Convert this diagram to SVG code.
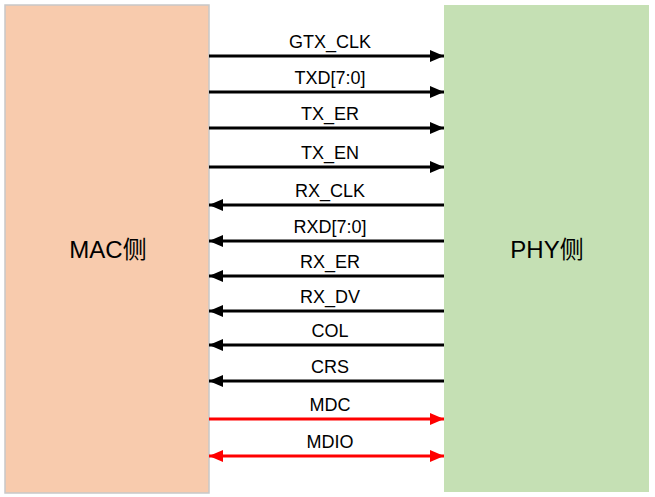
<svg xmlns="http://www.w3.org/2000/svg" width="655" height="497" viewBox="0 0 655 497">
<style>
.sig{font-family:"Liberation Sans","Noto Sans CJK SC",sans-serif;font-size:18px;fill:#000;text-anchor:middle}
.big{font-family:"Liberation Sans","Noto Sans CJK SC",sans-serif;font-size:24px;fill:#000;text-anchor:middle}
.blk{stroke:#000;stroke-width:3;fill:none}
.red{stroke:#FF0000;stroke-width:3;fill:none}
</style>
<defs>
<marker id="ab" markerUnits="userSpaceOnUse" viewBox="0 0 14 12" refX="14" refY="6" markerWidth="14" markerHeight="12" orient="auto-start-reverse"><path d="M0,0 L14,6 L0,12 Z" fill="#000"/></marker>
<marker id="ar" markerUnits="userSpaceOnUse" viewBox="0 0 14 12" refX="14" refY="6" markerWidth="14" markerHeight="12" orient="auto-start-reverse"><path d="M0,0 L14,6 L0,12 Z" fill="#FF0000"/></marker>
</defs>
<rect width="655" height="497" fill="#fff"/>
<g id="mac">
<rect x="5" y="5" width="204" height="488" fill="#F8CBAD" stroke="#C8C8C8" stroke-width="1.5"/>
<text class="big" x="108" y="258">MAC侧</text>
</g>
<g id="phy">
<rect x="444" y="5" width="205" height="487" fill="#C5E0B4"/>
<text class="big" x="547" y="258">PHY侧</text>
</g>
<g id="connectors">
<line class="blk" x1="209" y1="56" x2="444" y2="56" marker-end="url(#ab)"/>
<line class="blk" x1="209" y1="92" x2="444" y2="92" marker-end="url(#ab)"/>
<line class="blk" x1="209" y1="128" x2="444" y2="128" marker-end="url(#ab)"/>
<line class="blk" x1="209" y1="167" x2="444" y2="167" marker-end="url(#ab)"/>
<line class="blk" x1="444" y1="205" x2="209" y2="205" marker-end="url(#ab)"/>
<line class="blk" x1="444" y1="241" x2="209" y2="241" marker-end="url(#ab)"/>
<line class="blk" x1="444" y1="276" x2="209" y2="276" marker-end="url(#ab)"/>
<line class="blk" x1="444" y1="311" x2="209" y2="311" marker-end="url(#ab)"/>
<line class="blk" x1="444" y1="345" x2="209" y2="345" marker-end="url(#ab)"/>
<line class="blk" x1="444" y1="381" x2="209" y2="381" marker-end="url(#ab)"/>
<line class="red" x1="209" y1="419" x2="444" y2="419" marker-end="url(#ar)"/>
<line class="red" x1="209" y1="456" x2="444" y2="456" marker-start="url(#ar)" marker-end="url(#ar)"/>
<text class="sig" x="330" y="48">GTX_CLK</text>
<text class="sig" x="330" y="84">TXD[7:0]</text>
<text class="sig" x="330" y="120">TX_ER</text>
<text class="sig" x="330" y="159">TX_EN</text>
<text class="sig" x="330" y="197">RX_CLK</text>
<text class="sig" x="330" y="233">RXD[7:0]</text>
<text class="sig" x="330" y="268">RX_ER</text>
<text class="sig" x="330" y="303">RX_DV</text>
<text class="sig" x="330" y="337">COL</text>
<text class="sig" x="330" y="373">CRS</text>
<text class="sig" x="330" y="411">MDC</text>
<text class="sig" x="330" y="448">MDIO</text>
</g>
</svg>
